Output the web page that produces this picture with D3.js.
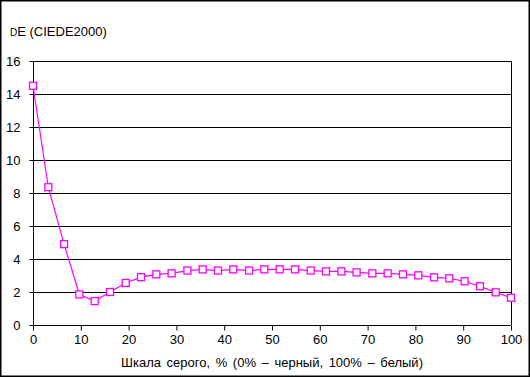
<!DOCTYPE html>
<html>
<head>
<meta charset="utf-8">
<script src="https://cdnjs.cloudflare.com/ajax/libs/d3/7.8.5/d3.min.js"></script>
<style>
  body { margin: 0; background: #fff; }
  text { font-family: "Liberation Sans", Arial, sans-serif; font-size: 13px; fill: #000; }
</style>
</head>
<body>
<div id="chart"></div>
<script>
// grey level, % (0 = black, 100 = white)
const greyLevels = [0, 3.2, 6.5, 9.7, 12.9, 16.1, 19.4, 22.6, 25.8, 29.0, 32.3, 35.5,
    38.7, 41.9, 45.2, 48.4, 51.6, 54.8, 58.1, 61.3, 64.5, 67.7, 71.0, 74.2,
    77.4, 80.6, 83.9, 87.1, 90.3, 93.5, 96.8, 100];
// dE (CIEDE2000)
const deltaE = [14.5, 8.35, 4.9, 1.85, 1.45, 2.0, 2.55, 2.9, 3.07, 3.13, 3.3, 3.37,
    3.3, 3.37, 3.3, 3.37, 3.37, 3.37, 3.3, 3.25, 3.25, 3.19, 3.13, 3.13,
    3.07, 3.01, 2.89, 2.83, 2.65, 2.35, 1.98, 1.65];
const xTicks = [0, 10, 20, 30, 40, 50, 60, 70, 80, 90, 100];
const yTicks = [0, 2, 4, 6, 8, 10, 12, 14, 16];

const W = 530, H = 377;
const margin = {top: 61, right: 19, bottom: 52, left: 33},
    width = W - margin.left - margin.right,
    height = H - margin.top - margin.bottom;

const svg = d3.select("#chart")
    .append("svg")
        .attr("width", W)
        .attr("height", H);

// outer frame
svg.append("rect")
    .attr("x", 0.75).attr("y", 0.75)
    .attr("width", W - 1.5).attr("height", H - 1.5)
    .attr("fill", "none")
    .attr("stroke", "#000")
    .attr("stroke-width", 1.5);

svg.append("text")
    .attr("x", 10)
    .attr("y", 36)
    .html('<tspan style="font-size:10px">D</tspan>E (CIEDE2000)');

const g = svg.append("g")
    .attr("transform", "translate(" + margin.left + "," + margin.top + ")");

const x = d3.scaleLinear().domain([0, 100]).range([0, width]);
const y = d3.scaleLinear().domain([0, 16]).range([height, 0]);

// gridlines
g.selectAll(".grid")
    .data(yTicks.filter(d => d > 0))
    .join("line")
        .attr("class", "grid")
        .attr("x1", 0).attr("x2", width)
        .attr("y1", d => Math.round(y(d)) + 0.5)
        .attr("y2", d => Math.round(y(d)) + 0.5)
        .attr("stroke", "#000");

// right border of plot area
g.append("line")
    .attr("x1", width + 0.5).attr("x2", width + 0.5)
    .attr("y1", 0).attr("y2", height)
    .attr("stroke", "#000");

const yAxis = g.append("g")
    .attr("transform", "translate(0.5,0)")
    .call(d3.axisLeft(y).tickValues(yTicks).tickSize(4).tickPadding(9));
const xAxis = g.append("g")
    .attr("transform", "translate(0," + (height + 0.5) + ")")
    .call(d3.axisBottom(x).tickValues(xTicks).tickSize(5).tickPadding(4));

[yAxis, xAxis].forEach(a => {
    a.select(".domain").attr("stroke", "#000").attr("stroke-width", 1);
    a.selectAll(".tick line").attr("stroke", "#000");
    a.selectAll(".tick text")
        .style("font-family", '"Liberation Sans", Arial, sans-serif')
        .style("font-size", "13px")
        .attr("fill", "#000");
});
yAxis.select(".domain").attr("d", "M0," + height + "V0");
xAxis.select(".domain").attr("d", "M0,0H" + width);

const points = greyLevels.map((d, i) => ({x: d, y: deltaE[i]}));

g.append("path")
    .datum(points)
    .attr("fill", "none")
    .attr("stroke", "#ff00ff")
    .attr("stroke-width", 1.2)
    .attr("d", d3.line().x(d => x(d.x)).y(d => y(d.y)));

const s = 7;
g.selectAll(".marker")
    .data(points)
    .join("rect")
        .attr("class", "marker")
        .attr("x", d => x(d.x) - s / 2)
        .attr("y", d => y(d.y) - s / 2)
        .attr("width", s)
        .attr("height", s)
        .attr("fill", "#fff")
        .attr("stroke", "#ff00ff")
        .attr("stroke-width", 1.3);

svg.append("text")
    .attr("x", 272)
    .attr("y", 367)
    .attr("text-anchor", "middle")
    .style("word-spacing", "2px")
    .text("Шкала серого, % (0% – черный, 100% – белый)");
</script>
</body>
</html>
